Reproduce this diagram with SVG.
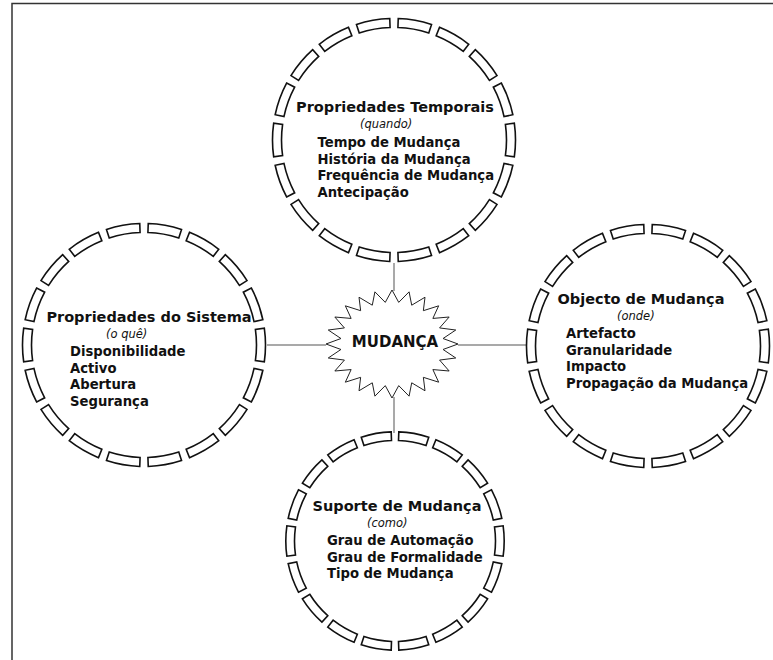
<svg xmlns="http://www.w3.org/2000/svg" xmlns:xlink="http://www.w3.org/1999/xlink" width="773" height="660" viewBox="0 0 773 660">
<style>
.seg{fill:#fff;stroke:#111;stroke-width:1.6;stroke-linejoin:miter}
.conn{stroke:#8c8c8c;stroke-width:1.5;fill:none}
.frame{stroke:#333;stroke-width:1.5;fill:none}
.star{fill:#fff;stroke:#222;stroke-width:1}
text{font-family:"DejaVu Sans",Verdana,sans-serif;fill:#111}
.title{font-weight:bold;font-size:14.5px}
.item{font-weight:bold;font-size:13.2px}
.sub{font-style:italic;font-size:11.5px}
.center{font-weight:bold;font-size:15px}
</style>
<defs>
<path id="segL" d="M120.317,-16.909 A121.5,121.5 0 0 1 120.317,16.909 L111.405,15.657 A112.5,112.5 0 0 0 111.405,-15.657 Z"/>
<path id="segS" d="M108.137,-15.198 A109.2,109.2 0 0 1 108.137,15.198 L99.522,13.987 A100.5,100.5 0 0 0 99.522,-13.987 Z"/>
<g id="ringL" class="seg">
<use xlink:href="#segL"/><use xlink:href="#segL" transform="rotate(20)"/><use xlink:href="#segL" transform="rotate(40)"/><use xlink:href="#segL" transform="rotate(60)"/><use xlink:href="#segL" transform="rotate(80)"/><use xlink:href="#segL" transform="rotate(100)"/><use xlink:href="#segL" transform="rotate(120)"/><use xlink:href="#segL" transform="rotate(140)"/><use xlink:href="#segL" transform="rotate(160)"/><use xlink:href="#segL" transform="rotate(180)"/><use xlink:href="#segL" transform="rotate(200)"/><use xlink:href="#segL" transform="rotate(220)"/><use xlink:href="#segL" transform="rotate(240)"/><use xlink:href="#segL" transform="rotate(260)"/><use xlink:href="#segL" transform="rotate(280)"/><use xlink:href="#segL" transform="rotate(300)"/><use xlink:href="#segL" transform="rotate(320)"/><use xlink:href="#segL" transform="rotate(340)"/>
</g>
<g id="ringS" class="seg">
<use xlink:href="#segS"/><use xlink:href="#segS" transform="rotate(20)"/><use xlink:href="#segS" transform="rotate(40)"/><use xlink:href="#segS" transform="rotate(60)"/><use xlink:href="#segS" transform="rotate(80)"/><use xlink:href="#segS" transform="rotate(100)"/><use xlink:href="#segS" transform="rotate(120)"/><use xlink:href="#segS" transform="rotate(140)"/><use xlink:href="#segS" transform="rotate(160)"/><use xlink:href="#segS" transform="rotate(180)"/><use xlink:href="#segS" transform="rotate(200)"/><use xlink:href="#segS" transform="rotate(220)"/><use xlink:href="#segS" transform="rotate(240)"/><use xlink:href="#segS" transform="rotate(260)"/><use xlink:href="#segS" transform="rotate(280)"/><use xlink:href="#segS" transform="rotate(300)"/><use xlink:href="#segS" transform="rotate(320)"/><use xlink:href="#segS" transform="rotate(340)"/>
</g>
</defs>
<rect width="773" height="660" fill="#fff"/>
<path class="frame" d="M12,660 V3.5 H773"/>
<g id="connectors">
<line class="conn" x1="394" y1="263" x2="394" y2="291"/>
<line class="conn" x1="267" y1="345" x2="326" y2="345"/>
<line class="conn" x1="458" y1="345" x2="526" y2="345"/>
<line class="conn" x1="394" y1="397" x2="394" y2="433"/>
</g>
<g id="node-temporais">
<use xlink:href="#ringL" transform="translate(394,140)"/>
<text class="title" x="395" y="112" text-anchor="middle">Propriedades Temporais</text>
<text class="sub" x="360" y="128">(quando)</text>
<text class="item" x="317.5" y="147">Tempo de Mudança</text>
<text class="item" x="317.5" y="163.5">História da Mudança</text>
<text class="item" x="317.5" y="180">Frequência de Mudança</text>
<text class="item" x="317.5" y="196.5">Antecipação</text>
</g>
<g id="node-sistema">
<use xlink:href="#ringL" transform="translate(144,345)"/>
<text class="title" x="149" y="322" text-anchor="middle">Propriedades do Sistema</text>
<text class="sub" x="106" y="338">(o quê)</text>
<text class="item" x="70" y="356">Disponibilidade</text>
<text class="item" x="70" y="372.5">Activo</text>
<text class="item" x="70" y="389">Abertura</text>
<text class="item" x="70" y="405.5">Segurança</text>
</g>
<g id="node-objecto">
<use xlink:href="#ringL" transform="translate(648,346)"/>
<text class="title" x="641" y="304" text-anchor="middle">Objecto de Mudança</text>
<text class="sub" x="617" y="320">(onde)</text>
<text class="item" x="566" y="338">Artefacto</text>
<text class="item" x="566" y="354.5">Granularidade</text>
<text class="item" x="566" y="371">Impacto</text>
<text class="item" x="566" y="387.5">Propagação da Mudança</text>
</g>
<g id="node-suporte">
<use xlink:href="#ringS" transform="translate(395,541)"/>
<text class="title" x="397" y="511" text-anchor="middle">Suporte de Mudança</text>
<text class="sub" x="367" y="526.5">(como)</text>
<text class="item" x="327" y="545">Grau de Automação</text>
<text class="item" x="327" y="561.5">Grau de Formalidade</text>
<text class="item" x="327" y="578">Tipo de Mudança</text>
</g>
<g id="node-mudanca">
<polygon class="star" transform="translate(392,344)" points="66,0 51.06,5.48 63.75,13.98 47.58,16.07 57.16,27 40.86,25.57 46.67,38.18 31.35,33.32 33,46.77 19.71,38.8 17.08,52.16 6.72,41.64 0,54 -6.72,41.64 -17.08,52.16 -19.71,38.8 -33,46.77 -31.35,33.32 -46.67,38.18 -40.86,25.57 -57.16,27 -47.58,16.07 -63.75,13.98 -51.06,5.48 -66,0 -51.06,-5.48 -63.75,-13.98 -47.58,-16.07 -57.16,-27 -40.86,-25.57 -46.67,-38.18 -31.35,-33.32 -33,-46.77 -19.71,-38.8 -17.08,-52.16 -6.72,-41.64 0,-54 6.72,-41.64 17.08,-52.16 19.71,-38.8 33,-46.77 31.35,-33.32 46.67,-38.18 40.86,-25.57 57.16,-27 47.58,-16.07 63.75,-13.98 51.06,-5.48"/>
<text class="center" x="395" y="347" text-anchor="middle">MUDANÇA</text>
</g>
</svg>
